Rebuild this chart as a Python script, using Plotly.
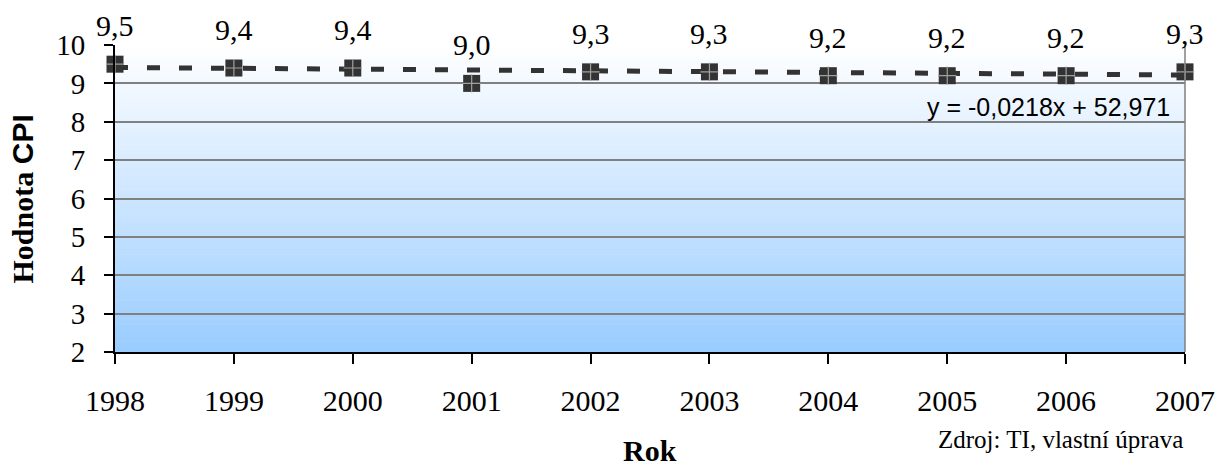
import plotly.graph_objects as go

# ---- data ----
years = [1998, 1999, 2000, 2001, 2002, 2003, 2004, 2005, 2006, 2007]
cpi = [9.5, 9.4, 9.4, 9.0, 9.3, 9.3, 9.2, 9.2, 9.2, 9.3]
trend_slope = -0.0218
trend_intercept = 52.971
y_ticks = [2, 3, 4, 5, 6, 7, 8, 9, 10]
x_title = "Rok"
y_title = "Hodnota CPI"
source_text = "Zdroj: TI, vlastní úprava"
equation_text = "y = -0,0218x + 52,971"

SERIF = "Times New Roman, Liberation Serif, serif"
SANS = "Arial, Liberation Sans, sans-serif"

trend_y = [trend_slope * yr + trend_intercept for yr in years]

fig = go.Figure()

# trendline
fig.add_trace(go.Scatter(
    x=years, y=trend_y, mode="lines",
    line=dict(color="#333333", width=5, dash="13px,19px"),
    hoverinfo="skip", showlegend=False, cliponaxis=False,
))
# markers: dark squares with light cross
fig.add_trace(go.Scatter(
    x=years, y=cpi, mode="markers",
    marker=dict(symbol="square", size=17, color="#333333", line=dict(width=0)),
    showlegend=False, cliponaxis=False,
))
fig.add_trace(go.Scatter(
    x=years, y=cpi, mode="markers",
    marker=dict(symbol="cross-thin", size=13, color="#a0a0a0",
                line=dict(width=1.2, color="#a0a0a0")),
    hoverinfo="skip", showlegend=False, cliponaxis=False,
))

# data labels
for yr, v in zip(years, cpi):
    fig.add_annotation(
        x=yr, y=v, text=f"{v:.1f}".replace(".", ","), showarrow=False,
        yanchor="bottom", xanchor="center", yshift=20,
        font=dict(family=SERIF, size=30, color="#000000"),
    )

# gradient background bands (white at top -> light blue at bottom)
n_bands = 120
top_rgb = (255, 255, 255)
bot_rgb = (153, 204, 255)
for i in range(n_bands):
    f0 = i / n_bands
    f1 = (i + 1) / n_bands
    t = (f0 + f1) / 2  # 0 bottom, 1 top
    c = tuple(round(b + (tp - b) * t) for b, tp in zip(bot_rgb, top_rgb))
    fig.add_shape(
        type="rect", xref="paper", yref="paper", x0=0, x1=1, y0=f0, y1=f1 + 0.002,
        fillcolor=f"rgb{c}", line=dict(width=0), layer="below",
    )

# right border
fig.add_shape(type="line", xref="paper", yref="paper", x0=1, x1=1, y0=0, y1=1,
              line=dict(color="#808080", width=1.5), layer="above")

# text annotations
fig.add_annotation(
    x=0.988, y=0.797, xref="paper", yref="paper", text=equation_text,
    showarrow=False, xanchor="right", yanchor="middle",
    font=dict(family=SANS, size=25, color="#000000"),
)
fig.add_annotation(
    x=-0.086, y=0.5, xref="paper", yref="paper",
    text="<b>Hodnota</b> <b><span style='font-family:Arial, Liberation Sans, sans-serif'>CPI</span></b>",
    showarrow=False, textangle=-90, xanchor="center", yanchor="middle",
    font=dict(family=SERIF, size=30, color="#000000"),
)
fig.add_annotation(
    x=0.5, y=-0.322, xref="paper", yref="paper", text=f"<b>{x_title}</b>",
    showarrow=False, xanchor="center", yanchor="middle",
    font=dict(family=SERIF, size=30, color="#000000"),
)
fig.add_annotation(
    x=1.0, y=-0.285, xref="paper", yref="paper", text=source_text,
    showarrow=False, xanchor="right", yanchor="middle",
    font=dict(family=SERIF, size=25, color="#000000"),
)

fig.update_layout(
    width=1219, height=468,
    margin=dict(l=115, r=34, t=45, b=116, autoexpand=False),
    paper_bgcolor="#ffffff", plot_bgcolor="#ffffff",
    showlegend=False,
)
fig.update_xaxes(
    range=[years[0], years[-1]], tickvals=years, ticktext=[str(y) for y in years],
    showgrid=False, zeroline=False, automargin=False,
    showline=True, linecolor="#000000", linewidth=2,
    ticks="outside", ticklen=10, tickwidth=1.5, tickcolor="#000000",
    ticklabelstandoff=11,
    tickfont=dict(family=SERIF, size=30, color="#000000"),
)
fig.update_yaxes(
    range=[y_ticks[0], y_ticks[-1]], tickvals=y_ticks,
    showgrid=True, gridcolor="#808080", gridwidth=1.5, zeroline=False, automargin=False,
    showline=True, linecolor="#000000", linewidth=2,
    ticks="outside", ticklen=9, tickwidth=1.5, tickcolor="#000000",
    ticklabelstandoff=13,
    tickfont=dict(family=SERIF, size=29, color="#000000"),
)

fig.write_html(
    "out.html",
    config={"displayModeBar": False, "responsive": False},
    post_script="document.body.style.margin='0';document.body.style.overflow='hidden';",
)
